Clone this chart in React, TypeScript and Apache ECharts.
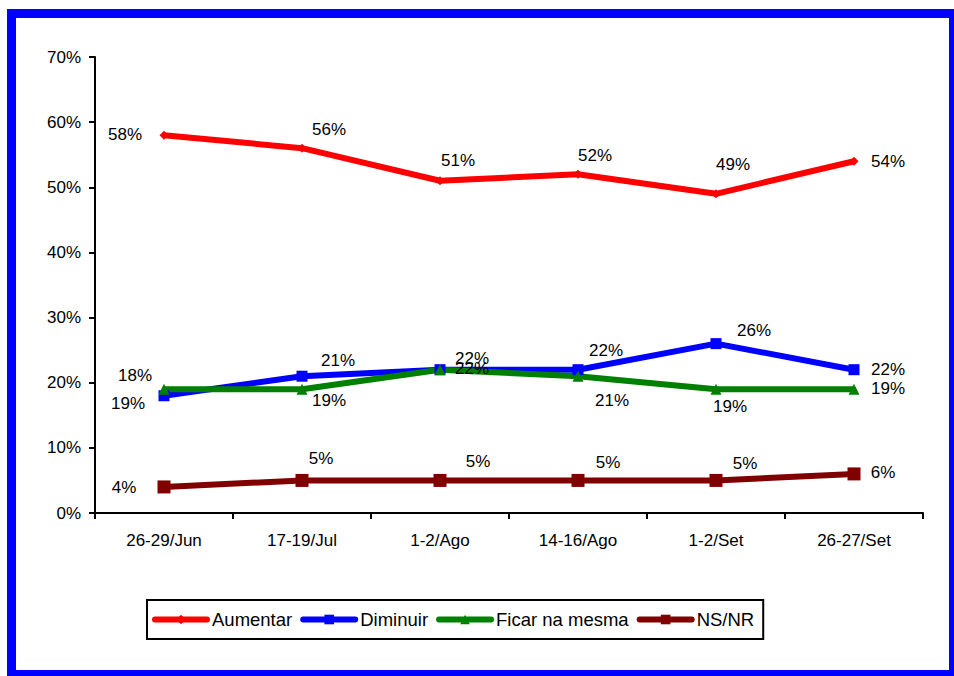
import React, { useEffect, useRef } from "react";
import * as echarts from "echarts";

const categories = ["26-29/Jun", "17-19/Jul", "1-2/Ago", "14-16/Ago", "1-2/Set", "26-27/Set"];
const aumentar = [58, 56, 51, 52, 49, 54];
const diminuir = [18, 21, 22, 22, 26, 22];
const ficar = [19, 19, 22, 21, 19, 19];
const nsnr = [4, 5, 5, 5, 5, 6];

const aumentarOffsets = [[-39, -1], [27, -19], [18, -20], [17, -19], [17, -29], [34, 0]];
const diminuirOffsets = [[-29, -20], [36, -16], [32, -11], [28, -19], [38, -13], [34, 0]];
const ficarOffsets = [[-36, 14], [27, 11], [32, -1], [34, 24], [14, 17], [34, -1]];
const nsnrOffsets = [[-40, 1], [19, -22], [38, -19], [30, -18], [29, -17], [29, -1]];

const FONT = "'Liberation Sans', Arial, sans-serif";

function mkData(vals: number[], offs: number[][]) {
  return vals.map((v, i) => ({
    value: v,
    label: { offset: offs[i] },
  }));
}

function mkSeries(name: string, vals: number[], offs: number[][], color: string, symbol: string, size: number | number[]) {
  return {
    name,
    type: "line",
    data: mkData(vals, offs),
    symbol,
    symbolSize: size,
    showAllSymbol: true,
    lineStyle: { color, width: 6 },
    itemStyle: { color },
    label: {
      show: true,
      position: "inside",
      formatter: "{c}%",
      color: "#000",
      fontSize: 17,
      fontFamily: FONT,
    },
  };
}

export default function App() {
  const ref = useRef<HTMLDivElement>(null);
  useEffect(() => {
    if (!ref.current) return;
    const chart = echarts.init(ref.current, null, { renderer: "svg" });
    chart.setOption({
      animation: false,
      backgroundColor: "#fff",
      textStyle: { fontFamily: FONT },
      grid: { left: 95, right: 31, top: 57, bottom: 163, containLabel: false },
      xAxis: {
        type: "category",
        data: categories,
        boundaryGap: true,
        axisLine: { lineStyle: { color: "#000", width: 2 } },
        axisTick: { show: true, length: 6, lineStyle: { color: "#000", width: 2 } },
        axisLabel: { color: "#000", fontSize: 17, fontFamily: FONT, margin: 19 },
      },
      yAxis: {
        type: "value",
        min: 0,
        max: 70,
        interval: 10,
        axisLine: { show: true, lineStyle: { color: "#000", width: 2 } },
        axisTick: { show: true, length: 6, lineStyle: { color: "#000", width: 2 } },
        axisLabel: { color: "#000", fontSize: 17, fontFamily: FONT, formatter: "{value}%", margin: 14 },
        splitLine: { show: false },
      },
      legend: {
        left: 147,
        top: 600,
        orient: "horizontal",
        padding: [10, 9, 10, 5],
        itemWidth: 52,
        itemHeight: 12,
        itemGap: 8,
        borderColor: "#000",
        borderWidth: 2,
        lineStyle: { width: 6, cap: "round" },
        textStyle: { color: "#000", fontSize: 18.5, fontFamily: FONT },
        data: ["Aumentar", "Diminuir", "Ficar na mesma", "NS/NR"],
      },
      graphic: [
        {
          type: "rect",
          shape: { x: 11.5, y: 13.5, width: 942, height: 661 },
          style: { fill: "none", stroke: "#0000FF", lineWidth: 9 },
          silent: true,
          z: 100,
        },
      ],
      series: [
        mkSeries("Aumentar", aumentar, aumentarOffsets, "#FF0000", "diamond", 9),
        mkSeries("Diminuir", diminuir, diminuirOffsets, "#0000FF", "rect", 11),
        mkSeries("Ficar na mesma", ficar, ficarOffsets, "#008000", "triangle", 11),
        mkSeries("NS/NR", nsnr, nsnrOffsets, "#800000", "rect", 13),
      ],
    });
    return () => chart.dispose();
  }, []);
  return (
    <div
      ref={ref}
      style={{ position: "fixed", left: 0, top: 0, width: 954, height: 676, background: "#fff" }}
    />
  );
}
